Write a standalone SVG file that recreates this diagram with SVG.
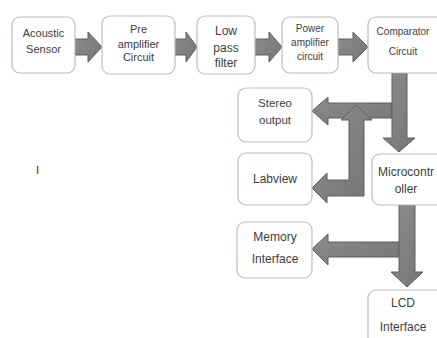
<svg xmlns="http://www.w3.org/2000/svg" width="437" height="338" viewBox="0 0 437 338">
<defs>
<linearGradient id="g" x1="0" y1="0" x2="1" y2="1">
<stop offset="0" stop-color="#8c8c8c"/>
<stop offset="1" stop-color="#767676"/>
</linearGradient>
</defs>
<style>
.box{fill:#ffffff;stroke:#b4c0cc;stroke-width:1.2}
.t{font-family:"Liberation Sans",Arial,sans-serif;fill:#404040;text-anchor:middle}
.a{fill:url(#g);stroke:#5e5e5e;stroke-width:1;stroke-linejoin:miter}
</style>
<rect width="437" height="338" fill="#ffffff"/>
<g id="connectors">
<polygon class="a" points="75,39 88,39 88,32 102,47 88,62 88,55 75,55"/>
<polygon class="a" points="175,39 186,39 186,32 197,47 186,62 186,55 175,55"/>
<polygon class="a" points="255,39 269,39 269,32 282,47 269,62 269,55 255,55"/>
<polygon class="a" points="338,39 353,39 353,32 368,47 353,62 353,55 338,55"/>
<polygon class="a" points="392,103 328,103 328,97 312,111 328,125 328,118 392,118"/>
<polygon class="a" points="392,73 407,73 407,138 415,138 399,152 383,138 392,138"/>
<polygon class="a" points="356,105 372,120 364,120 364,196 327,196 327,203 312,188 327,173 327,180 349,180 349,120 341,120"/>
<polygon class="a" points="399,242 328,242 328,234 312,249 328,265 328,257 399,257"/>
<polygon class="a" points="399,205 415,205 415,272 423,272 407,287 391,272 399,272"/>
</g>
<g id="acoustic">
<rect class="box" x="12" y="17" width="63" height="56" rx="8"/>
<text class="t" x="43.5" y="37" font-size="11">Acoustic</text>
<text class="t" x="43.5" y="53" font-size="11">Sensor</text>
</g>
<g id="preamp">
<rect class="box" x="102" y="16" width="73" height="58" rx="8"/>
<text class="t" x="138.5" y="33" font-size="11">Pre</text>
<text class="t" x="138.5" y="48" font-size="11">amplifier</text>
<text class="t" x="138.5" y="61" font-size="11">Circuit</text>
</g>
<g id="lowpass">
<rect class="box" x="197" y="16" width="58" height="58" rx="8"/>
<text class="t" x="226" y="35" font-size="12">Low</text>
<text class="t" x="226" y="52" font-size="12">pass</text>
<text class="t" x="226" y="67" font-size="12">filter</text>
</g>
<g id="poweramp">
<rect class="box" x="282" y="17" width="56" height="56" rx="8"/>
<text class="t" x="310" y="32" font-size="10">Power</text>
<text class="t" x="310" y="46" font-size="10">amplifier</text>
<text class="t" x="310" y="60" font-size="10">circuit</text>
</g>
<g id="comparator">
<rect class="box" x="368" y="17" width="76" height="56" rx="8"/>
<text class="t" x="403" y="35" font-size="10">Comparator</text>
<text class="t" x="403" y="55" font-size="10">Circuit</text>
</g>
<g id="stereo">
<rect class="box" x="238" y="88" width="74" height="54" rx="8"/>
<text class="t" x="275" y="107" font-size="11.5">Stereo</text>
<text class="t" x="275" y="124" font-size="11.5">output</text>
</g>
<g id="labview">
<rect class="box" x="238" y="153" width="74" height="52" rx="8"/>
<text class="t" x="275" y="183" font-size="12">Labview</text>
</g>
<g id="microcontroller">
<rect class="box" x="372" y="154" width="74" height="51" rx="8"/>
<text class="t" x="406" y="176" font-size="12">Microcontr</text>
<text class="t" x="406" y="193" font-size="12">oller</text>
</g>
<g id="memory">
<rect class="box" x="237" y="222" width="75" height="56" rx="8"/>
<text class="t" x="275" y="241" font-size="12">Memory</text>
<text class="t" x="275" y="263" font-size="12">Interface</text>
</g>
<g id="lcd">
<rect class="box" x="368" y="290" width="80" height="60" rx="8"/>
<text class="t" x="403" y="307" font-size="12">LCD</text>
<text class="t" x="403" y="331" font-size="12">Interface</text>
</g>
<text x="36" y="174" font-family="Liberation Sans,Arial,sans-serif" font-size="11" fill="#333333">I</text>
</svg>
